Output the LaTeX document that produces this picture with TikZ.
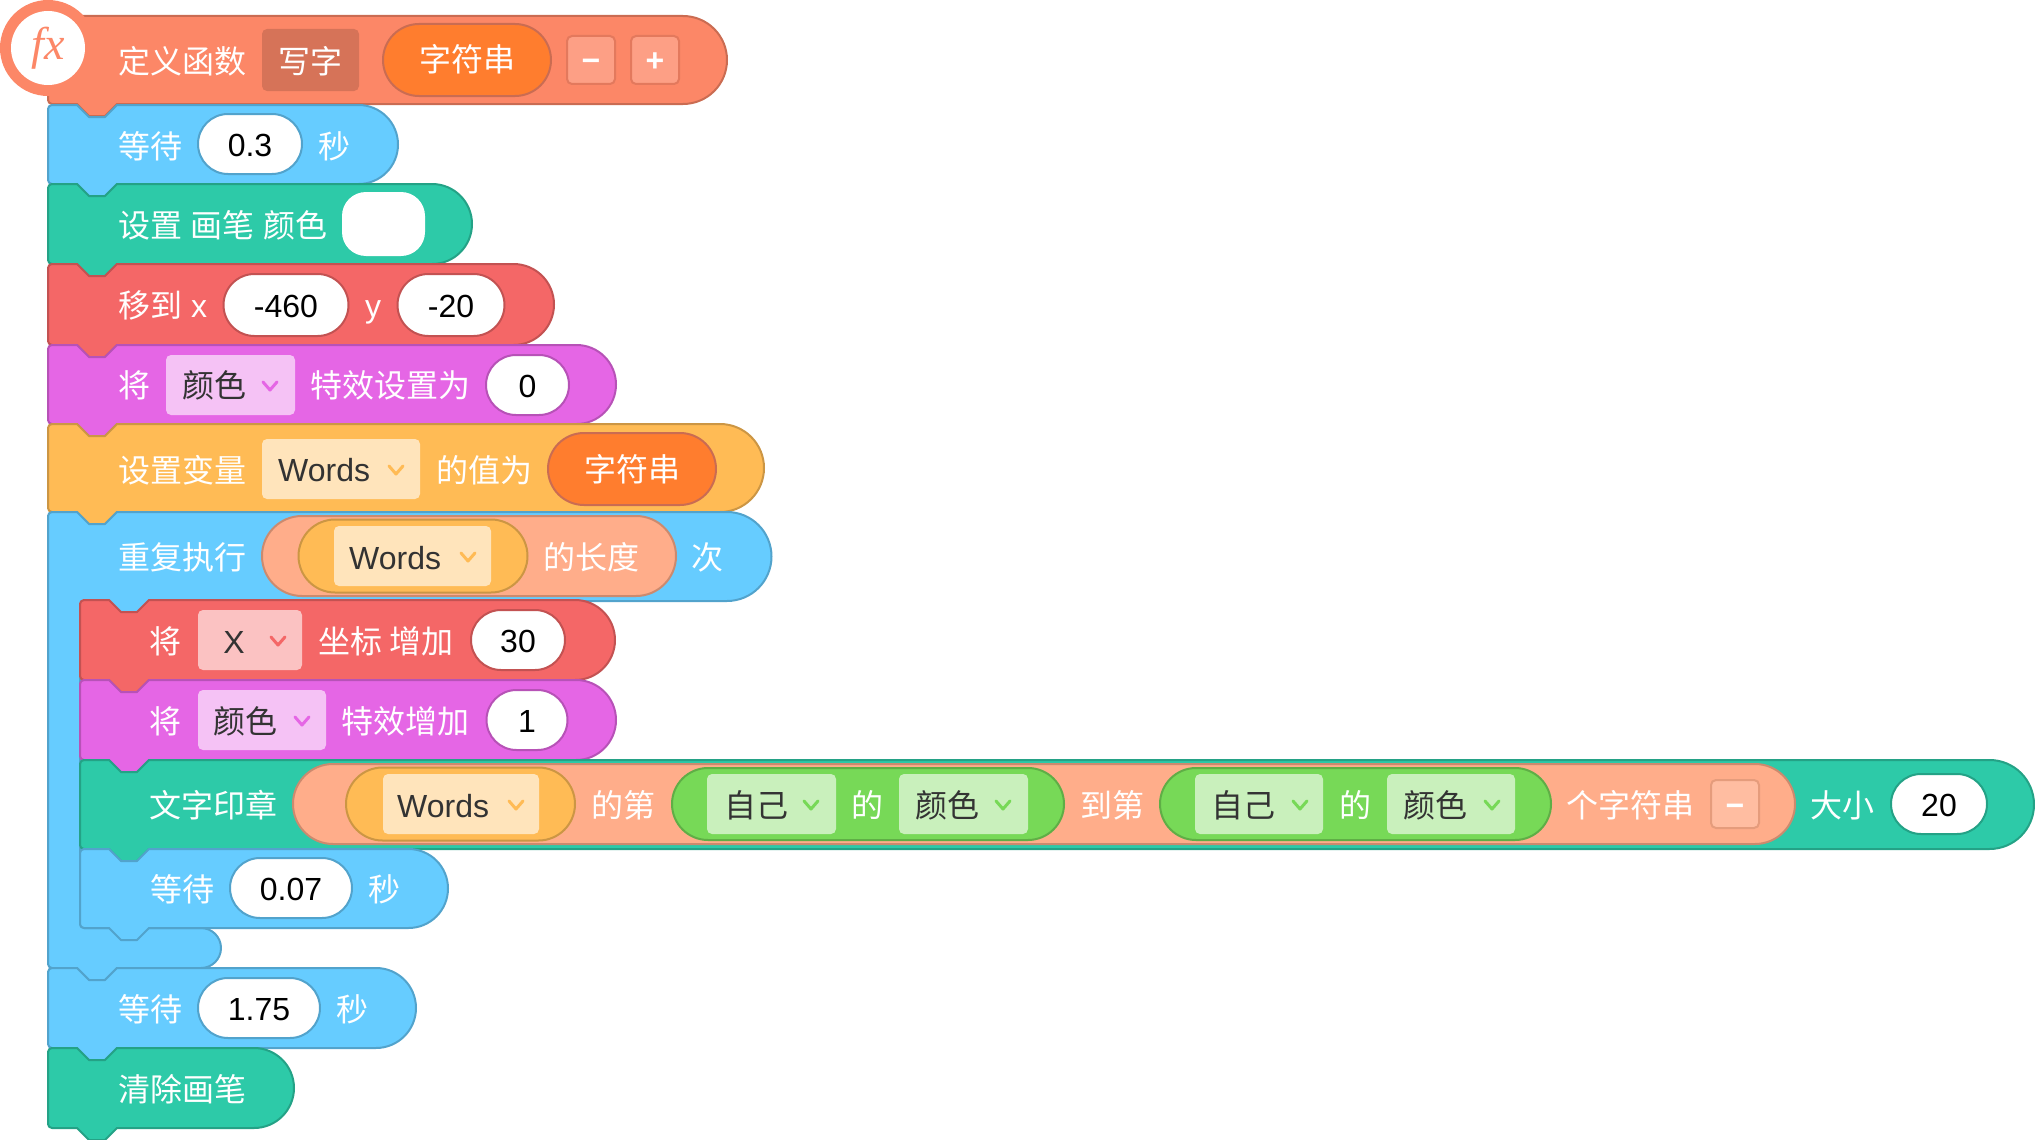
\documentclass[tikz,border=0pt]{standalone}
\usepackage{fontspec}
\setmainfont{Liberation Sans}
\newfontfamily\cjk{Noto Sans CJK SC}
\newfontfamily\fxfont{Liberation Serif}
\usetikzlibrary{shapes.misc}

\definecolor{blockBlue}{HTML}{66CCFF}
\definecolor{blockGreen}{HTML}{2DCAA8}
\definecolor{blockRed}{HTML}{F46767}
\definecolor{blockMagenta}{HTML}{E566E5}
\definecolor{blockOrange}{HTML}{FFBB55}
\definecolor{blockSalmon}{HTML}{FC8767}
\definecolor{pillSalmon}{HTML}{FFAD8A}
\definecolor{pillOrange}{HTML}{FF7D2E}
\definecolor{pillLime}{HTML}{77D957}

\tikzset{
    stackShape/.style={line width=2pt, line join=round},
    textBase/.style={inner sep=0pt, text height=28pt, text depth=4pt, font=\fontsize{32}{36}\selectfont},
    blockLabel/.style={textBase, anchor=west, text=white, font=\cjk\fontsize{32}{36}\selectfont},
    blockLatin/.style={textBase, text=white},
    menuText/.style={textBase, anchor=west, text=black!80},
    menuCjk/.style={menuText, font=\cjk\fontsize{32}{36}\selectfont},
    valuePill/.style={textBase, rounded rectangle, draw=#1!80!black, fill=white, line width=2pt, minimum height=60pt},
    stringPill/.style={blockLabel, anchor=center, rounded rectangle, draw=blockSalmon!80!black, fill=pillOrange, line width=2pt, minimum height=72pt},
    nestPill/.style={rounded rectangle, draw=#1!80!black, fill=#1, line width=2pt, inner sep=0pt},
    menuBox/.style={rectangle, rounded corners=5pt, fill=#1!40!white, inner sep=0pt, minimum height=60pt},
    stepButton/.style={textBase, rectangle, rounded corners=5pt, line width=2pt, text=white, font=\bfseries\fontsize{32}{36}\selectfont},
    chevronLine/.style={line width=3pt, line cap=round, line join=round},
}

% One stack block: fill, left, top, right, bottom
\newcommand{\stackBlock}[5]{
    \pgfmathsetmacro\blockRadius{(#5-#3)/2}
    \filldraw[stackShape, fill=#1, draw=#1!80!black]
        (#2,#3+4) arc (180:270:4) -- (#2+29,#3) -- (#2+41,#3+12) -- (#2+57,#3+12) -- (#2+69,#3)
        -- (#4-\blockRadius,#3) arc (-90:90:\blockRadius)
        -- (#2+69,#5) -- (#2+57,#5+12) -- (#2+41,#5+12) -- (#2+29,#5)
        -- (#2+4,#5) arc (90:180:4) -- cycle;
}

\begin{document}
\begin{tikzpicture}[x=1pt, y=1pt, yscale=-1]
    \useasboundingbox (0,0) rectangle (2035,1140);

    % Hat block with the function badge
    \filldraw[stackShape, fill=blockSalmon, draw=blockSalmon!80!black]
        (48,16) -- (683,16) arc (-90:90:44) -- (117,104) -- (105,116) -- (89,116) -- (77,104)
        -- (52,104) arc (90:180:4) -- cycle;
    \node[circle, fill=blockSalmon, inner sep=0pt, minimum size=96pt] (fxRing) at (48,48) {};
    \node[circle, fill=white, inner sep=0pt, minimum size=74pt, text=blockSalmon,
        font=\fxfont\itshape\fontsize{46}{46}\selectfont] (fxBadge) at (48,48) {fx};

    % Stack above the loop
    \stackBlock{blockBlue}{48}{105}{398}{184}
    \stackBlock{blockGreen}{48}{184}{472}{264}
    \stackBlock{blockRed}{48}{264}{554}{345}
    \stackBlock{blockMagenta}{48}{345}{616}{424}
    \stackBlock{blockOrange}{48}{424}{764}{512}

    % Loop block, arm and foot
    \filldraw[stackShape, fill=blockBlue, draw=blockBlue!80!black]
        (48,516) arc (180:270:4) -- (77,512) -- (89,524) -- (105,524) -- (117,512)
        -- (727,512) arc (-90:90:44.5) -- (149,601) -- (137,613) -- (121,613) -- (109,601)
        -- (84,601) arc (270:180:4) -- (80,924) arc (180:90:4)
        -- (201,928) arc (-90:90:20) -- (117,968) -- (105,980) -- (89,980) -- (77,968)
        -- (52,968) arc (90:180:4) -- cycle;

    % Stack inside the loop
    \stackBlock{blockRed}{80}{600}{615}{680}
    \stackBlock{blockMagenta}{80}{680}{616}{760}
    \stackBlock{blockGreen}{80}{760}{2034}{849}
    \stackBlock{blockBlue}{80}{849}{448}{928}

    % Stack below the loop
    \stackBlock{blockBlue}{48}{968}{416}{1048}
    \stackBlock{blockGreen}{48}{1048}{294}{1128}

    % Hat block row
    \node[blockLabel] (defineLabel) at (118,62) {定义函数};
    \node[rectangle, rounded corners=5pt, fill=blockSalmon!85!black, minimum width=97pt, minimum height=62pt, inner sep=0pt] (nameBox) at (310.5,60) {};
    \node[blockLabel, anchor=center] (nameText) at (310.5,62) {写字};
    \node[stringPill, minimum width=168pt] (paramPill) at (467,60) {字符串};
    \node[stepButton, fill=blockSalmon!80!white, draw=blockSalmon!90!black, minimum width=48pt, minimum height=48pt] (minusButton) at (591,60) {−};
    \node[stepButton, fill=blockSalmon!80!white, draw=blockSalmon!90!black, minimum width=48pt, minimum height=48pt] (plusButton) at (655,60) {+};

    % Wait 0.3
    \node[blockLabel] (waitLabel) at (118,146) {等待};
    \node[valuePill=blockBlue, minimum width=104pt] (waitValue) at (250,144) {0.3};
    \node[blockLabel] (waitUnit) at (318,146) {秒};

    % Pen colour
    \node[blockLabel] (penLabel) at (118,225) {设置\hspace*{8.5pt}画笔\hspace*{8.5pt}颜色};
    \node[rectangle, rounded corners=24pt, fill=white, minimum width=83pt, minimum height=64pt, inner sep=0pt] (penSwatch) at (383.5,224) {};

    % Move to
    \node[blockLabel] (moveLabel) at (118,305) {移到};
    \node[blockLatin] (moveX) at (199,305) {x};
    \node[valuePill=blockRed, minimum width=125pt, minimum height=62pt] (moveXValue) at (286,305) {-460};
    \node[blockLatin] (moveY) at (373,305) {y};
    \node[valuePill=blockRed, minimum width=107pt, minimum height=62pt] (moveYValue) at (451,305) {-20};

    % Effect set
    \node[blockLabel] (effectLabel) at (118,385) {将};
    \node[menuBox=blockMagenta, minimum width=129pt] (effectMenu) at (230.5,385) {};
    \node[menuCjk] (effectText) at (182,385) {颜色};
    \node[blockLabel] (effectSet) at (310,385) {特效设置为};
    \node[valuePill=blockMagenta, minimum width=83pt] (effectValue) at (527.5,385) {0};

    % Variable set
    \node[blockLabel] (varLabel) at (118,470) {设置变量};
    \node[menuBox=blockOrange, minimum width=158pt] (varMenu) at (341,469) {};
    \node[menuText] (varText) at (278,469) {Words};
    \node[blockLabel] (varSet) at (436,470) {的值为};
    \node[stringPill, minimum width=168pt] (varPill) at (632,469) {字符串};

    % Loop header
    \node[blockLabel] (loopLabel) at (118,557) {重复执行};
    \node[nestPill=pillSalmon, minimum width=414pt, minimum height=80pt] (lengthPill) at (469,556) {};
    \node[nestPill=blockOrange, minimum width=229pt, minimum height=73pt] (lengthVar) at (413,556) {};
    \node[menuBox=blockOrange, minimum width=157pt] (lengthMenu) at (412.5,556) {};
    \node[menuText] (lengthText) at (349,557) {Words};
    \node[blockLabel] (lengthLabel) at (543,557) {的长度};
    \node[blockLabel] (loopUnit) at (691,557) {次};

    % Change x
    \node[blockLabel] (changeLabel) at (149,641) {将};
    \node[menuBox=blockRed, minimum width=104pt] (changeMenu) at (250,640) {};
    \node[menuText, anchor=center] (changeText) at (234,641) {X};
    \node[blockLabel] (changeSet) at (318,641) {坐标 增加};
    \node[valuePill=blockRed, minimum width=94pt] (changeValue) at (518,640) {30};

    % Effect change
    \node[blockLabel] (addLabel) at (149,721) {将};
    \node[menuBox=blockMagenta, minimum width=128pt] (addMenu) at (262,720) {};
    \node[menuCjk] (addText) at (213,721) {颜色};
    \node[blockLabel] (addSet) at (341,721) {特效增加};
    \node[valuePill=blockMagenta, minimum width=81pt] (addValue) at (527,720) {1};

    % Text stamp
    \node[blockLabel] (stampLabel) at (149,805) {文字印章};
    \node[nestPill=pillSalmon, minimum width=1502pt, minimum height=80pt] (substrPill) at (1044,804) {};
    \node[nestPill=blockOrange, minimum width=229pt, minimum height=73pt] (stampVar) at (460.5,804) {};
    \node[menuBox=blockOrange, minimum width=156pt] (stampMenu) at (461,804) {};
    \node[menuText] (stampText) at (397,805) {Words};
    \node[blockLabel] (fromLabel) at (591,805) {的第};

    \node[nestPill=pillLime, minimum width=392pt, minimum height=72pt] (fromPill) at (868,804) {};
    \node[menuBox=pillLime, minimum width=129pt] (fromSelf) at (771.5,804) {};
    \node[menuCjk] (fromSelfText) at (724,805) {自己};
    \node[blockLabel] (fromOf) at (851,805) {的};
    \node[menuBox=pillLime, minimum width=129pt] (fromColour) at (963.5,804) {};
    \node[menuCjk] (fromColourText) at (915,805) {颜色};
    \node[blockLabel] (toLabel) at (1080,805) {到第};

    \node[nestPill=pillLime, minimum width=391pt, minimum height=72pt] (toPill) at (1355.5,804) {};
    \node[menuBox=pillLime, minimum width=128pt] (toSelf) at (1259,804) {};
    \node[menuCjk] (toSelfText) at (1211,805) {自己};
    \node[blockLabel] (toOf) at (1339,805) {的};
    \node[menuBox=pillLime, minimum width=128pt] (toColour) at (1451,804) {};
    \node[menuCjk] (toColourText) at (1403,805) {颜色};

    \node[blockLabel] (charLabel) at (1566,805) {个字符串};
    \node[stepButton, fill=pillSalmon!80!white, draw=pillSalmon!90!black, minimum width=48pt, minimum height=48pt] (charMinus) at (1735,804) {−};
    \node[blockLabel] (sizeLabel) at (1810,805) {大小};
    \node[valuePill=blockGreen, minimum width=96pt] (sizeValue) at (1939,804) {20};

    % Wait 0.07
    \node[blockLabel] (shortLabel) at (150,889) {等待};
    \node[valuePill=blockBlue, minimum width=122pt] (shortValue) at (291,888) {0.07};
    \node[blockLabel] (shortUnit) at (368,889) {秒};

    % Wait 1.75
    \node[blockLabel] (longLabel) at (118,1009) {等待};
    \node[valuePill=blockBlue, minimum width=122pt] (longValue) at (259,1008) {1.75};
    \node[blockLabel] (longUnit) at (336,1009) {秒};

    % Pen clear
    \node[blockLabel] (clearLabel) at (118,1089) {清除画笔};

    % Menu chevrons
    \foreach \chevX/\chevY/\chevColour in {270/386/blockMagenta, 396/470/blockOrange, 468/557/blockOrange,
        278/641/blockRed, 302/721/blockMagenta, 516/805/blockOrange, 811/805/pillLime, 1003/805/pillLime,
        1300/805/pillLime, 1492/805/pillLime}
        \draw[chevronLine, draw=\chevColour] (\chevX-7,\chevY-4) -- (\chevX,\chevY+4) -- (\chevX+7,\chevY-4);
\end{tikzpicture}
\end{document}
